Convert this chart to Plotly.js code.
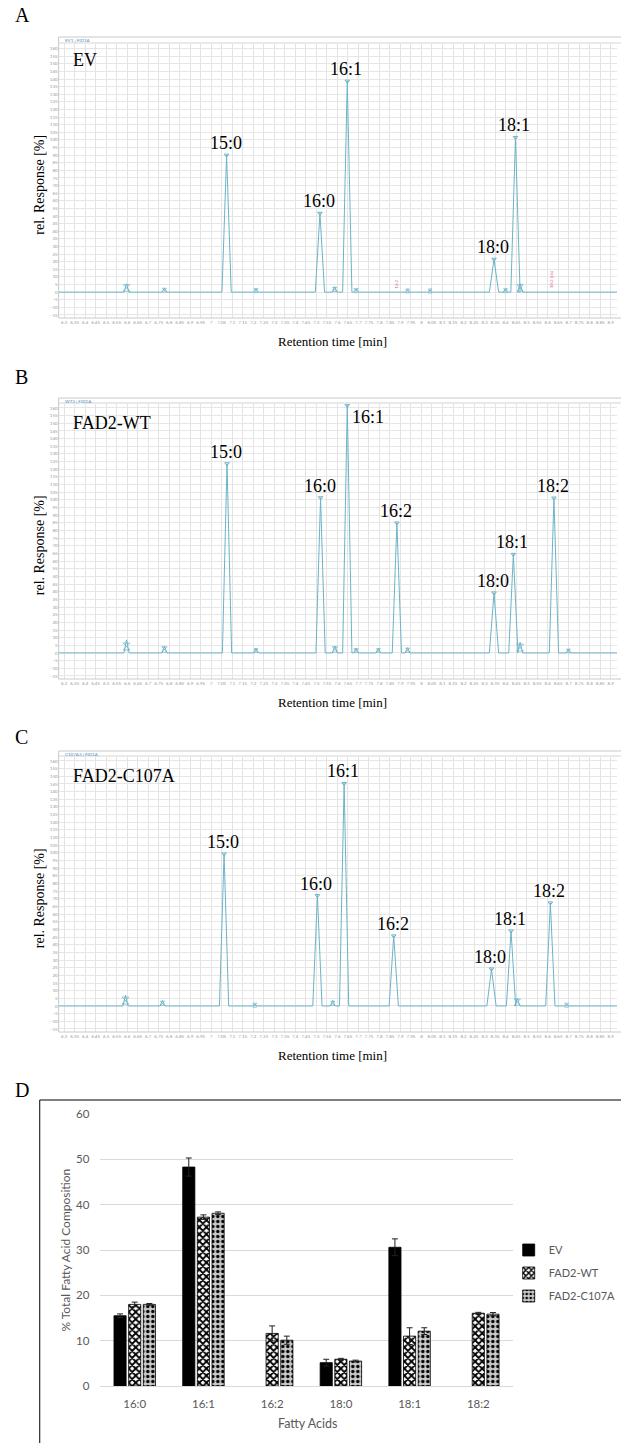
<!DOCTYPE html>
<html>
<head>
<meta charset="utf-8">
<script src="https://cdn.plot.ly/plotly-3.0.1.min.js"></script>
<style>
html,body{margin:0;padding:0;background:#fff;overflow:hidden;}
#chart{width:621px;height:1443px;}
</style>
</head>
<body>
<div id="chart"></div>
<script>
// ---------------- DATA ----------------
// Chromatogram peaks (retention time [min], relative response [%])
const peakNamesA = ['15:0','16:0','16:1','18:0','18:1'];
const peakTimesA = [7.073, 7.517, 7.647, 8.345, 8.447];
const peakHeightsA = [90, 51.8, 138.6, 21.6, 101.6];
const minorTimesA = [6.597, 6.777, 7.213, 7.587, 7.689, 7.934, 8.041, 8.400, 8.469];
const minorHeightsA = [5.5, 2.5, 2, 3.5, 2, 1.5, 1.5, 2, 5.5];
const pinkTimesA = [7.877, 8.617];
const pinkTextA = ['16:2', '18:2 (cis)'];

const peakNamesB = ['15:0','16:0','16:1','16:2','18:0','18:1','18:2'];
const peakTimesB = [7.075, 7.520, 7.647, 7.883, 8.345, 8.437, 8.630];
const peakHeightsB = [123.6, 101.4, 161.7, 84.9, 39.2, 64.4, 101.2];
const minorTimesB = [6.597, 6.777, 7.213, 7.588, 7.689, 7.795, 7.934, 8.469, 8.699];
const minorHeightsB = [8.5, 4.5, 3, 4.5, 3, 3, 3.5, 7, 2.5];

const peakNamesC = ['15:0','16:0','16:1','16:2','18:0','18:1','18:2'];
const peakTimesC = [7.061, 7.505, 7.632, 7.868, 8.333, 8.426, 8.613];
const peakHeightsC = [99.3, 72.1, 145.3, 45.8, 24.2, 49.0, 67.3];
const minorTimesC = [6.592, 6.768, 7.207, 7.578, 8.456, 8.690];
const minorHeightsC = [7, 3.5, 1, 3.5, 5, 1];

const sampleNames = ['EV', 'FAD2-WT', 'FAD2-C107A'];
const channelNames = ['EV1 | FID1A', 'WT3 | FID1A', 'C107A3 | FID1A'];

// Fatty acid composition (panel D)
const fattyAcids = ['16:0','16:1','16:2','18:0','18:1','18:2'];
const evValues   = [15.5, 48.3, null, 5.15, 30.6, null];
const evErrors   = [0.4, 2.0, null, 0.75, 1.85, null];
const wtValues   = [18.0, 37.25, 11.6, 5.9, 11.0, 16.05];
const wtErrors   = [0.5, 0.5, 1.65, 0.2, 1.85, 0.2];
const c107aValues = [18.0, 38.1, 10.1, 5.5, 12.1, 15.85];
const c107aErrors = [0.2, 0.3, 0.9, 0.2, 0.75, 0.35];

// ---------------- LAYOUT HELPERS ----------------
const W = 621, H = 1443;
const px = x => x / W;
const py = y => 1 - y / H;
const XMIN = 6.274, XMAX = 8.93;
const lineColor = '#6cb4c8';
const serif = 'Liberation Serif, Times New Roman, serif';
const sans = 'Lato, Open Sans, sans-serif';

function chromTraces(mainT, mainH, minT, minH, ax) {
  const pts = [];
  mainT.forEach((t, i) => pts.push([t, mainH[i], 0.022]));
  minT.forEach((t, i) => pts.push([t, minH[i], 0.012]));
  pts.sort((a, b) => a[0] - b[0]);
  const xs = [XMIN], ys = [0];
  pts.forEach(([t, h, w]) => { xs.push(t - w, t, t + w); ys.push(0, h, 0); });
  xs.push(XMAX); ys.push(0);
  return [
    {x: xs, y: ys, type: 'scatter', mode: 'lines', line: {color: lineColor, width: 1},
     xaxis: 'x' + ax, yaxis: 'y' + ax, showlegend: false, hoverinfo: 'skip'},
    {x: mainT, y: mainH, type: 'scatter', mode: 'markers',
     marker: {symbol: 'triangle-down-open', size: 4, color: lineColor, line: {width: 1}},
     xaxis: 'x' + ax, yaxis: 'y' + ax, showlegend: false, hoverinfo: 'skip'},
    {x: minT, y: minH.map(h => h / 2), type: 'scatter', mode: 'markers',
     marker: {symbol: 'hourglass-open', size: minH.map(h => Math.min(7, Math.max(4, h * 1.2))), color: lineColor, line: {width: 1}},
     xaxis: 'x' + ax, yaxis: 'y' + ax, showlegend: false, hoverinfo: 'skip'}
  ];
}

const traces = []
  .concat(chromTraces(peakTimesA, peakHeightsA, minorTimesA, minorHeightsA, ''))
  .concat(chromTraces(peakTimesB, peakHeightsB, minorTimesB, minorHeightsB, '2'))
  .concat(chromTraces(peakTimesC, peakHeightsC, minorTimesC, minorHeightsC, '3'));

// Panel D bars
const barCommon = {type: 'bar', x: fattyAcids, xaxis: 'x4', yaxis: 'y4', hoverinfo: 'skip'};
const errCommon = {type: 'data', visible: true, color: '#222', thickness: 1, width: 3};
traces.push(Object.assign({}, barCommon, {
  name: sampleNames[0], y: evValues, legend: 'legend',
  marker: {color: '#000', line: {color: '#000', width: 0.8}},
  error_y: Object.assign({array: evErrors}, errCommon)
}));
traces.push(Object.assign({}, barCommon, {
  name: sampleNames[1], y: wtValues, legend: 'legend2',
  marker: {color: '#fff', line: {color: '#000', width: 0.8},
           pattern: {shape: 'x', fgcolor: '#000', bgcolor: '#fff', size: 5, solidity: 0.6, fillmode: 'replace'}},
  error_y: Object.assign({array: wtErrors}, errCommon)
}));
traces.push(Object.assign({}, barCommon, {
  name: sampleNames[2], y: c107aValues, legend: 'legend3',
  marker: {color: '#fff', line: {color: '#000', width: 0.8},
           pattern: {shape: '.', fgcolor: '#000', bgcolor: '#c8c8c8', size: 5, solidity: 0.35, fillmode: 'replace'}},
  error_y: Object.assign({array: c107aErrors}, errCommon)
}));

// chromatogram axes
function chromX() {
  return {domain: [px(59), 1], range: [XMIN, XMAX], tick0: 6.3, dtick: 0.05,
          showgrid: true, gridcolor: '#e3e3e3', gridwidth: 1, zeroline: false,
          ticks: '', tickfont: {size: 4.5, color: '#999', family: sans},
          showline: false, fixedrange: true};
}
function chromY(top, bottom, ymax, anchor) {
  return {domain: [py(bottom), py(top)], range: [-17, ymax], tick0: 0, dtick: 5,
          showgrid: true, gridcolor: '#e6e6e6', gridwidth: 1, zeroline: false,
          ticks: '', tickfont: {size: 4.5, color: '#999', family: sans},
          showline: false, fixedrange: true, anchor: anchor};
}

const panels = [
  {top: 44, bottom: 318, frameTop: 37, ymax: 163, ax: ''},
  {top: 404, bottom: 679, frameTop: 398, ymax: 162.6, ax: '2'},
  {top: 757, bottom: 1032, frameTop: 751, ymax: 162.6, ax: '3'}
];

const layout = {
  width: W, height: H,
  margin: {l: 0, r: 0, t: 0, b: 0},
  paper_bgcolor: '#fff', plot_bgcolor: '#fff',
  font: {family: serif, color: '#000'},
  barmode: 'group', bargap: 0.36, bargroupgap: 0.17,
  shapes: [], annotations: []
};

panels.forEach((p, i) => {
  const xk = 'xaxis' + p.ax, yk = 'yaxis' + p.ax;
  layout[xk] = chromX();
  layout[xk].anchor = 'y' + p.ax;
  layout[yk] = chromY(p.top, p.bottom, p.ymax, 'x' + p.ax);
  layout.shapes.push({type: 'rect', xref: 'paper', yref: 'paper', x0: px(59), x1: 1.01,
    y0: py(p.bottom), y1: py(p.frameTop), line: {color: '#c9c9c9', width: 1}, layer: 'above'});
  layout.shapes.push({type: 'line', xref: 'paper', yref: 'paper', x0: px(59), x1: 1.01,
    y0: py(p.top - 1), y1: py(p.top - 1), line: {color: '#d5d5d5', width: 1}, layer: 'above'});
  layout.annotations.push({xref: 'paper', yref: 'paper', x: px(63), y: py(p.frameTop + 3.5),
    xanchor: 'left', yanchor: 'middle', text: channelNames[i], showarrow: false,
    font: {size: 4.5, color: '#4f8fc0', family: sans}});
  layout.annotations.push({xref: 'paper', yref: 'paper', x: px(71),
    y: py([60, 423, 776][i]), xanchor: 'left', yanchor: 'middle', text: sampleNames[i],
    showarrow: false, font: {size: 18, family: serif}});
  layout.annotations.push({xref: 'paper', yref: 'paper', x: px(40),
    y: py((p.top + p.bottom) / 2 + 4), textangle: -90, xanchor: 'center', yanchor: 'middle',
    text: 'rel. Response [%]', showarrow: false, font: {size: 14, family: serif}});
  layout.annotations.push({xref: 'paper', yref: 'paper', x: px(335),
    y: py(p.bottom + 23), xanchor: 'center', yanchor: 'middle',
    text: 'Retention time [min]', showarrow: false, font: {size: 13, family: serif}});
  layout.annotations.push({xref: 'paper', yref: 'paper', x: px(13),
    y: py([15, 377, 737][i]), xanchor: 'left', yanchor: 'middle', text: ['A', 'B', 'C'][i],
    showarrow: false, font: {size: 20, family: serif}});
});

function peakLabels(names, times, heights, ax, special) {
  names.forEach((n, i) => {
    const a = {x: times[i], y: heights[i], xref: 'x' + ax, yref: 'y' + ax, text: n,
      showarrow: false, xanchor: 'center', yanchor: 'bottom', yshift: 0, xshift: -1,
      font: {size: 18, family: serif}};
    if (special && special[n]) Object.assign(a, special[n]);
    layout.annotations.push(a);
  });
}
peakLabels(peakNamesA, peakTimesA, peakHeightsA, '');
peakLabels(peakNamesB, peakTimesB, peakHeightsB, '2',
  {'16:1': {xanchor: 'left', yanchor: 'middle', xshift: 3, yshift: -12}});
peakLabels(peakNamesC, peakTimesC, peakHeightsC, '3');

pinkTimesA.forEach((t, i) => {
  layout.annotations.push({x: t, y: 1, xref: 'x', yref: 'y', text: pinkTextA[i], textangle: -90,
    xanchor: 'center', yanchor: 'bottom', showarrow: false,
    font: {size: 4.5, color: '#e0609a', family: sans}});
});

// Panel D axes
layout.xaxis4 = {domain: [px(101), px(516)], anchor: 'y4', type: 'category',
  showgrid: false, zeroline: false, showline: true, linecolor: '#d9d9d9', linewidth: 1,
  ticks: '', ticklabelstandoff: 7, tickfont: {size: 11.5, color: '#595959', family: sans}, fixedrange: true};
layout.yaxis4 = {domain: [py(1386), py(1114)], anchor: 'x4', range: [0, 60], dtick: 10,
  showgrid: true, gridcolor: '#d9d9d9', gridwidth: 1, zeroline: false, showline: false,
  ticks: '', ticklabelstandoff: 10, tickfont: {size: 11.5, color: '#595959', family: sans}, fixedrange: true};

layout.annotations.push({xref: 'paper', yref: 'paper', x: px(13), y: py(1090), xanchor: 'left',
  yanchor: 'middle', text: 'D', showarrow: false, font: {size: 20, family: serif}});
layout.annotations.push({xref: 'paper', yref: 'paper', x: px(65), y: py(1250), textangle: -90,
  xanchor: 'center', yanchor: 'middle', text: '% Total Fatty Acid Composition', showarrow: false,
  font: {size: 12, color: '#595959', family: sans}});
layout.annotations.push({xref: 'paper', yref: 'paper', x: px(309), y: py(1423),
  xanchor: 'center', yanchor: 'middle', text: 'Fatty Acids', showarrow: false,
  font: {size: 12.5, color: '#595959', family: sans}});
layout.shapes.push({type: 'rect', xref: 'paper', yref: 'paper', x0: px(40), x1: 1.02,
  y0: -0.02, y1: py(1100), line: {color: '#000', width: 1}});

const legBase = {xref: 'paper', yref: 'paper', xanchor: 'left', yanchor: 'middle',
  bgcolor: 'rgba(0,0,0,0)', borderwidth: 0, font: {size: 11, color: '#595959', family: sans},
  itemwidth: 30};
layout.legend = Object.assign({x: px(512), y: py(1250)}, legBase);
layout.legend2 = Object.assign({x: px(512), y: py(1273)}, legBase);
layout.legend3 = Object.assign({x: px(512), y: py(1296)}, legBase);

Plotly.newPlot('chart', traces, layout, {staticPlot: true, displayModeBar: false});
</script>
</body>
</html>
